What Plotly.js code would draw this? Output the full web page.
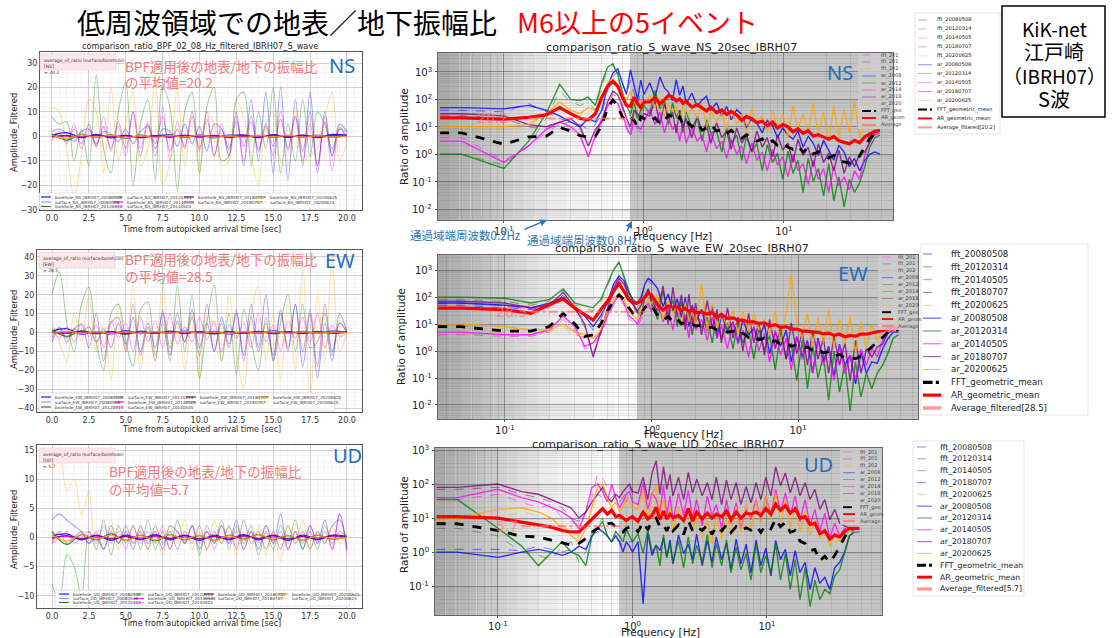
<!DOCTYPE html>
<html><head><meta charset="utf-8">
<script src="https://cdn.plot.ly/plotly-3.0.1.min.js"></script>
<style>html,body{margin:0;padding:0;background:#fff;}#chart{width:1113px;height:638px;}</style>
</head><body><div id="chart"></div>
<script>
// ---------------- DATA ----------------
const EVENTS = ['20080508','20120314','20140505','20180707','20200625'];
const AVG_FILTERED = [20.2, 28.5, 5.7];   // NS, EW, UD
const AVG_SPAN = [0.15, 0.9];

// time axes (s)
const T_SURF = [0,0.5,1,1.5,2,2.5,3,3.5,4,4.5,5,5.5,6,6.5,7,7.5,8,8.5,9,9.5,10,10.5,11,11.5,12,12.5,13,13.5,14,14.5,15,15.5,16,16.5,17,17.5,18,18.5,19,19.5,20];
const T_BORE = [0,1,2,3,4,5,6,7,8,9,10,11,12,13,14,15,16,17,18,19,20];

// surface filtered amplitudes (order = EVENTS)
const NS_SURFACE = [
 [2,3,1,-2,2,3,-3,2,1,-2,3,-3,2,4,-5,3,2,-4,5,-3,4,-6,5,3,-8,10,-12,15,-10,18,-15,20,-18,15,-12,18,-15,10,-8,5,2],
 [8,5,6,-10,3,-12,25,-5,-15,10,22,-20,5,15,-18,20,12,-22,10,18,-15,12,20,-10,-8,15,18,-12,10,-5,20,-15,5,-10,15,-8,10,5,-5,3,2],
 [-2,2,-3,5,-5,3,-4,8,-6,4,-8,10,-5,6,-8,12,-10,6,-5,8,-6,10,-8,5,-6,8,-10,6,-5,4,-8,10,-6,8,-10,5,-12,8,-14,4,-2],
 [0,1,-2,3,-3,5,-4,4,-5,6,-5,10,-8,5,-3,8,-6,3,-4,10,-5,7,-8,3,-5,6,-4,8,-6,5,-4,7,-5,8,-6,10,-12,6,-8,3,0],
 [12,10,-5,-25,-8,15,10,-15,20,-10,5,18,-12,-5,25,-20,-10,20,-12,8,-15,10,5,-12,-10,15,8,-8,-20,5,10,-10,-12,12,-10,-8,-5,8,18,-10,-2]
];
const EW_SURFACE = [
 [-5,2,-3,2,0,3,-5,2,-8,5,-6,8,-10,5,-8,10,-12,6,-5,12,-8,5,-10,8,-6,10,-12,15,-8,20,-15,12,-10,15,-18,10,-24,5,-15,10,0],
 [20,32,5,-10,15,24,-5,-20,10,15,-5,-18,12,16,-12,5,-15,25,-10,20,-24,5,25,-15,10,-22,12,-5,-20,8,-15,5,20,-10,15,-8,-5,10,-12,5,0],
 [2,-3,3,-5,5,-2,4,-8,6,-3,5,-10,8,-5,6,-8,10,-6,3,-5,8,-4,6,-10,4,-3,5,-8,10,-5,4,-10,6,-3,8,-5,10,-8,4,-2,0],
 [-3,3,-5,2,4,-8,10,-15,5,8,-10,15,-12,3,-15,12,-8,10,-5,8,-12,15,-10,5,-8,12,-15,8,-10,5,-12,10,-8,15,-10,12,-18,15,-10,5,0],
 [5,-5,-15,10,-5,20,-10,5,-25,15,-10,25,-20,8,-15,26,-10,5,-20,10,-25,8,5,-15,20,-10,-30,10,25,-15,10,-25,15,-20,35,-38,20,-15,40,-10,0]
];
const UD_SURFACE = [
 [3,4,3,2,1,-1,0,-2,2,-1,1,-2,2,-1,1,-2,2,1,-1,2,-2,1,-1,2,-1,3,-2,1,-2,2,-1,4,-2,1,-2,2,-1,3,-2,4,-2],
 [-8,-11,-3,-5,-10,1,-2,3,-3,2,-1,2,-2,3,-2,1,-2,3,-1,2,-3,2,-1,3,-2,2,-1,2,-3,1,-2,2,-1,3,-2,1,-2,2,-1,1,0],
 [-1,0,1,-1,0,1,-1,2,-1,1,-2,2,-1,1,-1,2,-2,1,-1,2,-1,1,-2,2,-1,1,-2,1,-1,2,-1,1,-2,1,-1,2,-1,1,-2,4,-3],
 [-1,1,-1,0,1,-1,1,-2,1,-1,2,-1,1,-2,2,-1,1,-2,1,-1,2,-2,1,-1,2,-2,3,-1,1,-2,1,-2,2,-1,1,-2,1,-1,2,3,-2],
 [12,15,8,10,4,8,-2,-1,3,-2,1,-1,2,-2,1,-3,2,-1,3,-2,1,-2,3,-1,2,-3,1,-2,2,-3,1,-4,2,-1,3,-2,1,-1,2,-1,1]
];
// borehole filtered amplitudes
const NS_BOREHOLE = [
 [0.5,1.5,-0.5,0.8,-0.6,0.4,-0.5,0.3,0.6,-0.4,0.5,-0.3,0.4,0.6,-0.5,0.7,-0.4,0.5,-0.3,0.8,0.5],
 [1,-1.5,0.8,-0.5,0.6,-0.8,0.5,-0.4,0.6,-0.5,0.4,-0.6,0.5,-0.3,0.4,-0.5,0.3,-0.4,0.5,-0.3,0.2],
 [-0.3,0.2,-0.2,0.3,-0.2,0.2,-0.3,0.2,-0.2,0.3,-0.2,0.2,-0.3,0.2,-0.2,0.3,-0.2,0.2,-0.3,0.2,0],
 [0,0.3,-0.4,0.5,-0.3,0.4,-0.5,0.3,-0.4,0.5,-0.3,0.4,-0.5,0.3,-0.4,0.5,-0.3,0.4,-0.5,0.3,0],
 [0.5,-0.8,0.6,-0.4,0.5,-0.6,0.3,-0.5,0.4,-0.3,0.5,-0.4,0.3,-0.5,0.4,-0.3,0.5,-0.4,0.3,-0.2,0]
];
const EW_BOREHOLE = [
 [0.8,2,-1,0.5,-0.8,1,-0.6,0.4,-0.5,0.8,-0.4,0.6,-0.8,0.5,-0.6,0.9,-0.5,0.6,-0.4,0.7,0.3],
 [1.5,-2,1,-0.8,0.6,-1,0.7,-0.5,0.8,-0.6,0.5,-0.8,0.6,-0.4,0.5,-0.7,0.4,-0.5,0.6,-0.4,0.2],
 [-0.4,0.3,-0.3,0.4,-0.3,0.2,-0.4,0.3,-0.2,0.4,-0.3,0.3,-0.4,0.2,-0.3,0.4,-0.2,0.3,-0.4,0.2,0],
 [0.2,-0.5,0.6,-0.4,0.5,-0.6,0.4,-0.5,0.6,-0.4,0.5,-0.6,0.4,-0.5,0.6,-0.4,0.5,-0.6,0.4,-0.3,0],
 [-0.5,0.8,-0.6,0.5,-0.7,0.4,-0.6,0.5,-0.4,0.6,-0.5,0.4,-0.6,0.5,-0.4,0.6,-0.5,0.4,-0.3,0.2,0]
];
const UD_BOREHOLE = [
 [0.3,0.6,-0.4,0.3,-0.5,0.4,-0.3,0.5,-0.4,0.3,-0.5,0.4,-0.3,0.5,-0.4,0.3,-0.5,0.4,-0.3,0.4,0.2],
 [1,-1.2,0.5,-0.4,0.6,-0.5,0.4,-0.6,0.5,-0.4,0.3,-0.5,0.4,-0.3,0.5,-0.4,0.3,-0.5,0.4,-0.3,0.1],
 [0,0.2,-0.2,0.1,-0.2,0.2,-0.1,0.2,-0.2,0.1,-0.2,0.2,-0.1,0.2,-0.2,0.1,-0.2,0.2,-0.1,0.2,0],
 [-0.2,0.3,-0.3,0.4,-0.3,0.2,-0.4,0.3,-0.2,0.4,-0.3,0.2,-0.4,0.3,-0.2,0.4,-0.3,0.2,-0.4,0.3,0],
 [0.4,-0.6,0.5,-0.3,0.4,-0.5,0.3,-0.4,0.5,-0.3,0.4,-0.5,0.3,-0.4,0.5,-0.3,0.4,-0.5,0.3,-0.2,0]
];

// frequency axes (Hz)
const FREQ_LOW = [0.035,0.05,0.1,0.15,0.2,0.25,0.3,0.35,0.4,0.45,0.5,0.55,0.6,0.65,0.7,0.75,0.8,0.85,0.9,0.95,1.0];
const FREQ_HIGH = [1.1,1.2,1.3,1.4,1.5,1.6,1.7,1.8,1.9,2.0,2.2,2.4,2.6,2.8,3.0,3.3,3.6,3.9,4.2,4.6,5.0,5.4,5.9,6.4,7.0,7.6,8.3,9.0,9.8,10.7,11.6,12.6,13.7,14.9,16.2,17.6,19.2,20.9,22.7,24.7,26.9,29.3,31.9,34.7,37.8,41,44.6,48.5];

// ---- NS spectral ratios ----
const NS_AR_MEAN = [21,21,19,22,27,50,30,20,18,30,120,300,450,300,120,60,55,120,70,50,80,
 80,115,68,95,140,120,88,105,72,85, 52,64,47,38,52,33,41,28,36,27, 17,24,19,14,16,11,15,9,12,10, 6.5,8.5,5.8,7.2,4.6,5.1,4.2,3.5,4.4,3.1, 2.7,2.4,3.2,2.6,4.3,5.2,6.8,7.5];
const NS_FFT_MEAN = [6,6,2.3,4.3,4.5,9.5,7,4.7,4.3,4.5,11,47,95,54,23,17,23,17,10,23,20,
 15,21,13,17,27,24,16,23,12,17, 10,14,7.5,9,12,7,8,5.5,7.5,4.8, 3.8,5.2,4.1,3,3.6,2.4,3.1,2.1,2.6,1.8, 1.5,2,1.2,1.7,1.0,1.25,0.95,0.72,0.92,0.6, 0.52,0.48,0.62,0.85,1.9,3.8,5.8,7];
const NS_AR = [
 [50,50,45,60,40,25,15,10,20,15,40,300,900,1300,400,150,1200,300,100,500,150,
  400,120,650,260,180,90,520,140,310,70, 170,55,95,130,40,75,25,55,18,42, 28,9,22,14,6,17,11,4,9,5, 3.5,7,1.8,4.5,2.5,0.9,3.2,1.4,0.6,2.1, 1.2,0.35,0.7,0.25,0.6,1,1.2,1],
 [1,1,0.3,3,30,350,100,90,120,60,400,1500,2000,800,200,60,30,80,20,40,60,
  30,210,45,90,12,75,22,40,6,35, 9,22,3,18,6,7,1.2,9,2.5,5, 0.6,4.5,1.2,2.5,0.25,2.2,0.5,1.1,0.12,1.3, 0.2,0.6,0.04,0.7,0.1,0.3,0.03,0.45,0.02,0.15, 0.012,0.12,0.04,0.09,0.35,1.8,4,5],
 [3,3,0.5,2,8,15,10,5,0.8,5,20,60,100,70,30,10,5,20,10,8,15,
  45,12,35,6,22,8,12,3,14,2.5, 9,3,5,1.2,6,1.6,3,0.7,3.5,1, 2,0.45,2.6,0.6,1.2,0.25,1.5,0.4,0.8,0.15, 1,0.25,0.45,0.08,0.6,0.12,0.3,0.04,0.35,0.07, 0.15,0.05,0.25,0.12,0.9,3.2,5,6],
 [30,30,25,12,10,15,20,10,2,8,15,80,200,150,60,20,10,40,30,20,30,
  25,90,12,70,20,35,6,40,9,20, 4,24,7,12,2.5,14,4,7,1.5,9, 2.5,5,1.2,7,1.8,4,0.8,5,1.4,2.5, 0.5,3.5,0.9,1.8,0.35,2.4,0.5,1.1,0.25,1.4, 0.2,0.8,0.35,1,1.2,2.8,6,7],
 [10,10,10,12,30,80,40,30,50,40,100,400,600,300,150,100,200,80,60,90,70,
  140,50,110,25,70,35,55,18,60,25, 45,20,65,10,35,15,30,8,45,12, 30,6,45,14,25,7,40,9,30,4, 60,8,30,6,70,5,35,3,55,4, 45,6,90,4,12,8,8,8]
];
const NS_FFT = [
 [40,40,35,70,35,20,15,12,8,12,30,200,700,1000,400,150,500,150,60,200,80],
 [1,1,0.4,2,20,200,80,60,80,40,300,1200,1800,700,150,50,25,60,15,30,50],
 [4,4,0.6,2,6,12,8,4,0.8,4,15,50,90,60,25,8,4,15,8,6,12],
 [25,25,20,10,8,12,15,8,2,6,12,60,150,120,50,15,8,30,25,15,25],
 [8,8,8,10,25,60,30,25,40,30,80,300,500,250,120,80,150,60,50,70,60]
];

// ---- EW spectral ratios ----
const EW_AR_MEAN = [39,39,34,25,52,85,39,22,14,34,70,160,320,160,80,60,60,70,100,140,120,
 52,33,47,42,43,32,38,30,33,26, 28,23,27,17,23,16,17,14,14,12, 12,10.5,11,8.5,9.5,7.5,8,6.5,6.5,5.5, 5.5,5,5,4.3,4.6,3.8,4.2,3.4,3.8,3.6, 4.2,4.2,4.8,5.2,5.8,6.8,7,7];
const EW_FFT_MEAN = [8,8,5.5,5.5,8,25,10,3.5,4,10,30,70,120,80,40,25,20,25,40,55,50,
 21,14,19,12,16,10,12,9.5,10,8.5, 9,7.5,7.5,6,6.5,5,5.5,3.8,4.6,3.2, 3.8,2.6,3,2.1,2.4,1.8,2,1.5,1.7,1.25, 1.4,1.05,1.2,0.85,0.95,0.65,0.75,0.55,0.58,0.52, 0.65,0.95,1.4,2,3.2,5,6,6];
const EW_AR = [
 [60,60,50,40,60,100,40,20,8,20,60,300,600,400,150,80,60,100,300,500,400,
  210,45,130,30,85,18,95,8,50,12, 35,5,45,3,22,6,12,2,15,4, 7,2.5,10,0.8,5,1.5,6,0.4,3.5,0.6, 2.5,0.15,3,0.4,1.5,0.12,1.8,0.3,0.7,0.06, 0.9,0.15,0.4,0.35,1.2,2.8,5,5],
 [100,100,90,60,80,200,60,50,40,80,300,1000,2000,600,200,60,30,20,100,200,60,
  15,170,22,80,8,70,12,30,4,35, 7,18,2,25,3,11,1.2,13,2,6, 0.5,7,1.1,3.8,0.2,5,0.5,2,0.08,2.5, 0.04,1.6,0.1,0.7,0.015,1,0.03,0.35,0.006,0.4, 0.02,0.15,0.04,0.15,0.3,0.8,3,4],
 [5,5,4,4,6,20,8,1.5,2,5,20,60,120,60,20,15,10,20,40,60,30,
  70,12,40,6,55,9,22,3,30,6, 15,2.5,18,3,9,1.2,12,1.8,6,0.6, 8,1,4.5,0.4,6,0.7,3,0.2,3.5,0.5, 2,0.15,2.5,0.3,1.2,0.08,1.5,0.15,0.7,0.08, 1.2,0.3,1.3,0.6,2.5,5.5,8,8],
 [70,70,60,40,50,150,40,10,0.6,5,30,200,500,300,100,50,30,50,100,200,80,
  30,260,10,230,18,120,6,130,10,60, 4,75,7,35,2,40,3,18,1,25, 2,12,0.7,15,1.2,8,0.5,11,0.8,5, 0.3,6,0.5,3,0.15,4,0.3,2,0.08,2.5, 0.15,1.2,0.6,1.4,1.8,4.5,6,6],
 [10,10,8,6,6,10,5,4,3,6,30,80,150,80,30,20,15,30,50,80,60,
  120,15,70,25,50,8,65,12,30,10, 300,5,60,6,25,8,35,4,30,5, 25,6,15,4,30,2,25,700,12,3, 25,1.5,18,2,35,1.2,15,1.8,20,0.8, 12,1.2,10,2.5,5,6,6,6]
];
const EW_FFT = [
 [50,50,40,35,50,80,35,15,6,15,50,250,500,350,120,60,50,80,250,400,300],
 [80,80,70,50,70,180,50,40,30,60,250,900,1800,500,180,50,25,15,80,150,50],
 [4,4,3.5,3.5,5,15,6,1.2,1.5,4,15,50,100,50,15,12,8,15,30,50,25],
 [60,60,50,35,40,120,35,8,0.8,4,25,150,400,250,80,40,25,40,80,150,60],
 [8,8,6,5,5,8,4,3,2.5,5,25,60,120,60,25,15,12,25,40,60,50]
];

// ---- UD spectral ratios ----
const UD_AR_MEAN = [11,11,10,7.6,6.5,5.4,4.3,3.9,3.9,6.2,9.5,13,19,13,17,11,12,10,8.5,10,11,
 8,15,9.5,12,21,9,16,9.5,13,10.5, 12,8.5,19,8,15,9.5,14,10,13,11, 16,9,15,10,14,13,15,12,19,13, 26,17,23,14,19,10,11,6.5,7,3.5, 4.2,2.4,3.2,2.8,4,5,5,5];
const UD_FFT_MEAN = [6.8,6.8,4.3,2.9,2.8,2.2,1.8,1.6,1.8,2.5,3.9,5,5.5,6.8,7.1,5.5,4.3,3.9,5,5.5,6,
 4,7.5,4.5,8.5,10,5.5,6.5,4.2,6.5,4.2, 6.2,3.3,8.5,4.2,5.5,4.3,6.3,3.3,5.7,4.2, 6.4,3.8,5.6,4.3,5.2,4.4,5.8,3.8,6.2,4.8, 9.5,5.6,7.5,3.8,4.3,2.1,1.8,1.1,1.2,0.55, 0.75,0.5,0.8,1.5,3,5,5,5];
const UD_AR = [
 [1,1,0.7,1,1.2,1,0.8,1,1.5,1.2,3,5,4,3,2,3,2,1,2,1.5,1,
  2,0.03,3.5,0.8,1.6,1.1,2.6,0.7,2.3,0.45, 3.2,0.9,1.7,0.6,3.4,0.4,2.2,0.5,2.8,0.6, 1.8,0.3,2.4,0.45,1.7,0.25,2.3,0.4,1.3,0.2, 2.2,0.6,1.2,0.2,1.1,0.25,0.5,0.08,0.35,0.12, 0.18,0.08,0.35,0.5,1,3,4,4],
 [35,35,5,1.5,0.4,1,2,1,0.8,0.4,3,5,8,3,2,4,3,2,5,3,2,
  3.5,0.9,4.5,1,1.6,0.4,3.2,0.7,1.7,0.5, 2.2,0.35,2.8,0.45,1.6,0.5,3.3,0.35,1.8,0.4, 2.3,0.25,1.4,0.3,0.9,0.15,1.7,0.25,0.8,0.25, 1.8,0.15,0.9,0.08,0.6,0.04,0.35,0.025,0.15,0.04, 0.08,0.06,0.2,0.3,1,3,4,4],
 [40,40,70,40,30,20,15,10,5,15,80,100,60,30,100,40,20,30,50,60,30,
  25,110,18,55,35,15,90,12,45,8, 55,12,65,10,35,6,45,12,25,5, 35,7,28,5,18,9,35,8,45,12, 70,15,55,12,45,8,35,6,18,4, 14,2.5,7,3,5,4,4,4],
 [80,80,100,60,50,35,25,20,10,15,30,50,80,40,30,50,40,60,80,100,60,
  55,160,35,220,480,50,320,70,190,45, 160,35,220,55,140,45,110,35,160,25, 130,35,110,25,85,28,110,35,160,45, 320,90,210,55,160,45,110,35,70,18, 35,9,18,7,6,5,4,4],
 [10,10,18,20,15,10,5,3,2,5,20,80,100,40,20,30,15,20,40,30,20,
  18,70,8,45,90,12,35,8,22,4, 22,7,17,4,12,2.5,9,1.8,12,2.5, 16,3,22,4,28,5,32,7,45,9, 55,7,35,5,22,4,16,3,9,2.5, 5,1.5,3.5,2,4,4,4,4]
];
const UD_FFT = [
 [1.2,1.2,1.2,1.1,1.5,1.2,1.0,1.2,2,2,3,4,3,3,2,3,2,1.5,2,2,2],
 [5,5,3,1,0.8,0.6,1.5,2,0.5,1,4,6,10,3,2,3,3,2,4,3,2],
 [35,35,50,30,20,25,10,8,6,15,40,200,150,80,60,40,30,40,30,50,40],
 [70,70,80,50,40,30,20,10,8,15,30,50,40,30,40,50,30,40,60,80,50],
 [8,8,10,15,12,8,6,4,3,6,15,40,60,30,15,20,10,15,30,20,15]
];

// ---------------- RENDER ----------------
const W = 1113, H = 638;
const px = v => v / W, py = v => 1 - v / H;
const FONT = 'DejaVu Sans, sans-serif';
const JP = 'Noto Sans CJK JP, sans-serif';
const COLORS = ['#0000ff', '#008000', '#ff00ff', '#800080', '#ffa500'];
const FREQ = FREQ_LOW.concat(FREQ_HIGH);

const traces = [], shapes = [], ann = [];
function txt(x, y, text, o) {
  ann.push(Object.assign({xref:'paper', yref:'paper', x:px(x), y:py(y), text:text, showarrow:false,
    xanchor:'center', yanchor:'middle', font:{family:FONT, size:10, color:'#222'}}, o || {}));
}

const LEFT = [
  {comp:'NS', xa:'x',  ya:'y',  dom:{x:[40,362], y:[52,210]},  xr:[-0.81,21.02], yr:[-30.1,34.5], dt:10, mdt:2, surf:NS_SURFACE, bore:NS_BOREHOLE, avg:AVG_FILTERED[0]},
  {comp:'EW', xa:'x2', ya:'y2', dom:{x:[37,362], y:[250,412]}, xr:[-1.02,21.02], yr:[-42.1,43.7], dt:10, mdt:2, surf:EW_SURFACE, bore:EW_BOREHOLE, avg:AVG_FILTERED[1]},
  {comp:'UD', xa:'x3', ya:'y3', dom:{x:[37,362], y:[445,608]}, xr:[-1.02,21.02], yr:[-12.1,15.86], dt:5, mdt:1, surf:UD_SURFACE, bore:UD_BOREHOLE, avg:AVG_FILTERED[2]}
];
const RIGHT = [
  {comp:'NS', xa:'x4', ya:'y4', dom:{x:[438,893], y:[53,220]},  xr:[-1.471,1.779], yr:[-2.40,3.69], ar:NS_AR, fft:NS_FFT, arm:NS_AR_MEAN, fftm:NS_FFT_MEAN, avg:AVG_FILTERED[0]},
  {comp:'EW', xa:'x5', ya:'y5', dom:{x:[438,918], y:[255,419]}, xr:[-1.457,1.819], yr:[-2.52,3.56], ar:EW_AR, fft:EW_FFT, arm:EW_AR_MEAN, fftm:EW_FFT_MEAN, avg:AVG_FILTERED[1]},
  {comp:'UD', xa:'x6', ya:'y6', dom:{x:[435,882], y:[448,615]}, xr:[-1.468,1.855], yr:[-1.85,3.06], ar:UD_AR, fft:UD_FFT, arm:UD_AR_MEAN, fftm:UD_FFT_MEAN, avg:AVG_FILTERED[2]}
];

const layout = {
  width:W, height:H, margin:{l:0, r:0, t:0, b:0}, paper_bgcolor:'#fff', plot_bgcolor:'#fff',
  showlegend:false, font:{family:FONT}
};
function axName(a) { return a === 'x' ? 'xaxis' : a === 'y' ? 'yaxis' : (a[0] + 'axis' + a.slice(1)); }

LEFT.forEach(p => {
  p.surf.forEach((arr, i) => traces.push({type:'scatter', mode:'lines', x:T_SURF, y:arr, xaxis:p.xa, yaxis:p.ya,
    line:{color:COLORS[i], width:1.1, shape:'spline', smoothing:1}, opacity:0.36, hoverinfo:'skip'}));
  p.bore.forEach((arr, i) => traces.push({type:'scatter', mode:'lines', x:T_BORE, y:arr, xaxis:p.xa, yaxis:p.ya,
    line:{color:COLORS[i], width:1.2, shape:'spline'}, opacity:0.85, hoverinfo:'skip'}));
  const base = {showline:true, mirror:true, linecolor:'#555', linewidth:1, zeroline:false, showgrid:true,
    gridcolor:'#c4c4c4', gridwidth:0.8, ticks:'', tickfont:{family:FONT, size:8, color:'#333'}};
  layout[axName(p.xa)] = Object.assign({}, base, {domain:[px(p.dom.x[0]), px(p.dom.x[1])], range:p.xr, anchor:p.ya,
    tick0:0, dtick:2.5, tickformat:'.1f', minor:{dtick:0.5, showgrid:true, gridcolor:'#ececec', gridwidth:0.6}});
  layout[axName(p.ya)] = Object.assign({}, base, {domain:[py(p.dom.y[1]), py(p.dom.y[0])], range:p.yr, anchor:p.xa,
    tick0:0, dtick:p.dt, minor:{dtick:p.mdt, showgrid:true, gridcolor:'#ececec', gridwidth:0.6}});
});

function logTicks(lo, hi) {
  const v = [], t = [];
  for (let e = Math.ceil(lo); e <= Math.floor(hi); e++) { v.push(Math.pow(10, e)); t.push('10<sup>' + (e < 0 ? '-' + (-e) : e) + '</sup>'); }
  return {v, t};
}
function logMinor(lo, hi) {
  const v = [];
  for (let e = Math.floor(lo); e <= Math.ceil(hi); e++) for (let m = 2; m <= 9; m++) {
    const val = m * Math.pow(10, e), l = Math.log10(val); if (l > lo && l < hi) v.push(val);
  }
  return v;
}

RIGHT.forEach(p => {
  p.fft.forEach((arr, i) => traces.push({type:'scatter', mode:'lines', x:FREQ_LOW, y:arr, xaxis:p.xa, yaxis:p.ya,
    line:{color:COLORS[i], width:1, dash:'dash'}, opacity:0.5, hoverinfo:'skip'}));
  p.ar.forEach((arr, i) => traces.push({type:'scatter', mode:'lines', x:FREQ, y:arr, xaxis:p.xa, yaxis:p.ya,
    line:{color:COLORS[i], width:1.4}, opacity:0.78, hoverinfo:'skip'}));
  traces.push({type:'scatter', mode:'lines', x:FREQ, y:p.fftm, xaxis:p.xa, yaxis:p.ya, line:{color:'#000', width:2.8, dash:'dash'}, hoverinfo:'skip'});
  traces.push({type:'scatter', mode:'lines', x:FREQ, y:p.arm, xaxis:p.xa, yaxis:p.ya, line:{color:'#ff0000', width:3.2}, hoverinfo:'skip'});
  traces.push({type:'scatter', mode:'lines', x:AVG_SPAN, y:[p.avg, p.avg], xaxis:p.xa, yaxis:p.ya, line:{color:'#ff7070', width:2, dash:'dashdot'}, opacity:0.75, hoverinfo:'skip'});

  const tx = logTicks(p.xr[0], p.xr[1]), ty = logTicks(p.yr[0], p.yr[1]);
  const base = {type:'log', showline:true, mirror:true, linecolor:'#666', linewidth:1, zeroline:false, showgrid:true,
    gridcolor:'rgba(70,70,70,0.5)', gridwidth:1, ticks:'outside', ticklen:2, tickcolor:'#555',
    tickfont:{family:FONT, size:10, color:'#222'}, tickmode:'array'};
  layout[axName(p.xa)] = Object.assign({}, base, {domain:[px(p.dom.x[0]), px(p.dom.x[1])], range:p.xr, anchor:p.ya,
    tickvals:tx.v, ticktext:tx.t, minor:{tickmode:'array', tickvals:logMinor(p.xr[0], p.xr[1]), showgrid:true, gridcolor:'rgba(90,90,90,0.25)', gridwidth:0.6, ticks:''}});
  layout[axName(p.ya)] = Object.assign({}, base, {domain:[py(p.dom.y[1]), py(p.dom.y[0])], range:p.yr, anchor:p.xa,
    tickvals:ty.v, ticktext:ty.t, showticklabels:false,
    minor:{tickmode:'array', tickvals:logMinor(p.yr[0], p.yr[1]), showgrid:true, gridcolor:'rgba(90,90,90,0.22)', gridwidth:0.6, ticks:''}});
  // y tick labels placed in page coordinates through the axis mapping
  const pxPerDec = (p.dom.y[1] - p.dom.y[0]) / (p.yr[1] - p.yr[0]);
  ty.v.forEach((v, k) => txt(p.dom.x[0] - 4, p.dom.y[1] - (Math.log10(v) - p.yr[0]) * pxPerDec, ty.t[k],
    {xanchor:'right', font:{family:FONT, size:10, color:'#222'}}));

  // background shading (stop band / pass band)
  const l0 = p.xr[0], l1 = Math.log10(0.2), l2 = Math.log10(0.8), n = 10;
  for (let k = 0; k < n; k++) {
    const g = Math.round(170 + (228 - 170) * k / (n - 1));
    shapes.push({type:'rect', xref:p.xa, yref:p.ya + ' domain', x0:Math.pow(10, l0 + (l1 - l0) * k / n), x1:Math.pow(10, l0 + (l1 - l0) * (k + 1) / n),
      y0:0, y1:1, fillcolor:'rgb(' + g + ',' + g + ',' + g + ')', line:{width:0}, layer:'below'});
  }
  for (let k = 0; k < 4; k++) {
    const g = Math.round(236 + 5 * k);
    shapes.push({type:'rect', xref:p.xa, yref:p.ya + ' domain', x0:Math.pow(10, l1 + (l2 - l1) * k / 4), x1:Math.pow(10, l1 + (l2 - l1) * (k + 1) / 4),
      y0:0, y1:1, fillcolor:'rgb(' + g + ',' + g + ',' + g + ')', line:{width:0}, layer:'below'});
  }
  shapes.push({type:'rect', xref:p.xa, yref:p.ya + ' domain', x0:0.8, x1:Math.pow(10, p.xr[1]), y0:0, y1:1, fillcolor:'#c6c6c6', line:{width:0}, layer:'below'});
});

// ------- Text -------
txt(75, 22, '低周波領域での地表／地下振幅比', {xanchor:'left', font:{family:JP, size:28, color:'#000'}});
txt(515, 22, 'M6以上の5イベント', {xanchor:'left', font:{family:JP, size:27, color:'#ff0000'}});
shapes.push({type:'rect', xref:'paper', yref:'paper', x0:px(1002), x1:px(1105), y0:py(117), y1:py(6), line:{color:'#000', width:1.5}, fillcolor:'#fff', layer:'above'});
txt(1054, 28, 'KiK-net', {font:{family:JP, size:19, color:'#000'}});
txt(1054, 52, '江戸崎', {font:{family:JP, size:20, color:'#000'}});
txt(1054, 76, '（IBRH07）', {font:{family:JP, size:19, color:'#000'}});
txt(1054, 99, 'S波', {font:{family:JP, size:20, color:'#000'}});

txt(200, 46, 'comparison_ratio_BPF_02_08_Hz_filtered_IBRH07_S_wave', {font:{family:FONT, size:8.2, color:'#222'}});
const LTXT = [
  {xl:[201,229], yl:[14,133], pk:[123,66,82], lbl:[342,65], info:[40,54,116,70], leg:{box:[39,193,335,209], cols:[40,112,183,255], rows:[197,202,206.5]}},
  {xl:[201,429], yl:[14,330], pk:[123,259,276], lbl:[340,260], info:[39,252,115,268], leg:{box:[39,393,335,411], cols:[40,113,185,258], rows:[397,402,407]}},
  {xl:[201,623], yl:[14,530], pk:[107,471,489], lbl:[347,455], info:[39,448,115,463], leg:{box:[55,590,350,606], cols:[58,133,203,277], rows:[594,598.5,602.5]}}
];
LEFT.forEach((p, j) => {
  const c = LTXT[j];
  txt(c.xl[0], c.xl[1], 'Time from autopicked arrival time [sec]', {font:{family:FONT, size:8, color:'#222'}});
  txt(c.yl[0], c.yl[1], 'Amplitude_Filtered', {textangle:-90, font:{family:FONT, size:8.5, color:'#222'}});
  txt(c.pk[0], c.pk[1], 'BPF適用後の地表/地下の振幅比', {xanchor:'left', font:{family:JP, size:13.5, color:'#f27a7a'}});
  txt(c.pk[0], c.pk[2], 'の平均値=' + p.avg, {xanchor:'left', font:{family:JP, size:13.5, color:'#f27a7a'}});
  txt(c.lbl[0], c.lbl[1], p.comp, {font:{family:'Noto Sans, sans-serif', size:20, color:'#1f6fc0'}});
  shapes.push({type:'rect', xref:'paper', yref:'paper', x0:px(c.info[0]), x1:px(c.info[2]), y0:py(c.info[3]), y1:py(c.info[1]),
    fillcolor:'rgba(252,228,233,0.9)', line:{color:'#e6c9cf', width:0.5}, layer:'above'});
  txt(c.info[0] + 2, c.info[1] + 1.5, 'average_of_ratio (surface/borehole)<br>[' + p.comp + ']<br>= ' + p.avg,
    {xanchor:'left', yanchor:'top', align:'left', font:{family:FONT, size:4.5, color:'#333'}});
  const L = c.leg;
  shapes.push({type:'rect', xref:'paper', yref:'paper', x0:px(L.box[0]), x1:px(L.box[2]), y0:py(L.box[3]), y1:py(L.box[1]),
    fillcolor:'rgba(255,255,255,0.8)', line:{color:'#d0d0d0', width:0.6}, layer:'above'});
  const entries = [];
  EVENTS.forEach((ev, i) => {
    entries.push({name:'borehole_' + p.comp + '_IBRH07_' + ev, color:COLORS[i], op:0.9});
    entries.push({name:'surface_' + p.comp + '_IBRH07_' + ev, color:COLORS[i], op:0.4});
  });
  const colOf = [0,0,0,1,1,1,2,2,3,3], rowOf = [0,1,2,0,1,2,0,1,0,1];
  entries.forEach((en, k) => {
    const x = L.cols[colOf[k]], y = L.rows[rowOf[k]];
    shapes.push({type:'line', xref:'paper', yref:'paper', x0:px(x + 1), x1:px(x + 11), y0:py(y), y1:py(y), line:{color:en.color, width:1.2}, opacity:en.op, layer:'above'});
    txt(x + 13, y, en.name, {xanchor:'left', font:{family:FONT, size:4.2, color:'#333'}});
  });
});

const RTXT = [
  {title:[671,47], xl:[672,236], yl:[404,137], lbl:[840,72], avgx:492,
   inner:{box:[858,53,893,129], y0:55, dy:7, lx:[862,876], tx:879},
   big:{box:[915,13,1000,134], y0:20, dy:8.95, lx:[918,932], tx:935, fs:5.2, lw:0.6}},
  {title:[682,248], xl:[683,434], yl:[401,337], lbl:[853,273], avgx:511,
   inner:{box:[878,255,918,330], y0:257, dy:6.9, lx:[882,893], tx:896},
   big:{box:[921,244,1088,415], y0:254, dy:12.83, lx:[923,941], tx:949, fs:8.6, lw:1}},
  {title:[658,444], xl:[660,632], yl:[404,525], lbl:[818,464], avgx:507,
   inner:{box:[840,448,882,525], y0:452, dy:6.9, lx:[843,855], tx:858},
   big:{box:[913,441,1024,596], y0:447, dy:11.83, lx:[917,932], tx:938, fs:7.8, lw:0.9}}
];
function specEntries(avg) {
  const e = [];
  EVENTS.forEach((ev, i) => e.push({name:'fft_' + ev, color:COLORS[i], dash:'dash', width:1, op:0.55}));
  EVENTS.forEach((ev, i) => e.push({name:'ar_' + ev, color:COLORS[i], dash:'solid', width:1, op:0.75}));
  e.push({name:'FFT_geometric_mean', color:'#000', dash:'dashdot', width:3.2, op:1});
  e.push({name:'AR_geometric_mean', color:'#ff0000', dash:'solid', width:3.2, op:1});
  e.push({name:'Average_filtered[' + avg + ']', color:'#ff6f6f', dash:'solid', width:3.6, op:0.7});
  return e;
}
RIGHT.forEach((p, j) => {
  const c = RTXT[j];
  txt(c.title[0], c.title[1], 'comparison_ratio_S_wave_' + p.comp + '_20sec_IBRH07', {font:{family:FONT, size:11.2, color:'#222'}});
  txt(c.xl[0], c.xl[1], 'Frequency [Hz]', {font:{family:FONT, size:10.5, color:'#222'}});
  txt(c.yl[0], c.yl[1], 'Ratio of amplitude', {textangle:-90, font:{family:FONT, size:10.5, color:'#222'}});
  txt(c.lbl[0], c.lbl[1], p.comp, {font:{family:'Noto Sans, sans-serif', size:20, color:'#1f6fc0'}});
  ann.push({xref:'paper', yref:p.ya, x:px(c.avgx), y:Math.log10(p.avg), text:String(p.avg), showarrow:false,
    xanchor:'center', yanchor:'middle', font:{family:FONT, size:14, color:'rgba(255,120,120,0.8)'}});
  const ent = specEntries(p.avg);
  const I = c.inner;
  shapes.push({type:'rect', xref:'paper', yref:'paper', x0:px(I.box[0]), x1:px(I.box[2]), y0:py(I.box[3]), y1:py(I.box[1]),
    fillcolor:'rgba(205,205,205,0.85)', line:{width:0}, layer:'above'});
  ent.slice(2).forEach((en, k) => {
    const y = I.y0 + I.dy * k;
    shapes.push({type:'line', xref:'paper', yref:'paper', x0:px(I.lx[0]), x1:px(I.lx[1]), y0:py(y), y1:py(y), line:{color:en.color, width:en.width * 0.6, dash:en.dash}, opacity:en.op, layer:'above'});
    txt(I.tx, y, en.name.slice(0, 7), {xanchor:'left', font:{family:FONT, size:5, color:'#444'}});
  });
  const B = c.big;
  shapes.push({type:'rect', xref:'paper', yref:'paper', x0:px(B.box[0]), x1:px(B.box[2]), y0:py(B.box[3]), y1:py(B.box[1]),
    fillcolor:'rgba(255,255,255,0.95)', line:{color:'#dddddd', width:0.8}, layer:'above'});
  ent.forEach((en, k) => {
    const y = B.y0 + B.dy * k;
    shapes.push({type:'line', xref:'paper', yref:'paper', x0:px(B.lx[0]), x1:px(B.lx[1]), y0:py(y), y1:py(y), line:{color:en.color, width:en.width * B.lw, dash:en.dash}, opacity:en.op, layer:'above'});
    txt(B.tx, y, en.name, {xanchor:'left', font:{family:FONT, size:B.fs, color:'#222'}});
  });
});

const BLUE = '#2e75b6';
txt(465, 235, '通過域端周波数0.2Hz', {font:{family:JP, size:11.5, color:BLUE}});
txt(582, 240, '通過域端周波数0.8Hz', {font:{family:JP, size:11.5, color:BLUE}});
ann.push({xref:'paper', yref:'paper', x:px(547), y:py(220), ax:-24, ay:10, text:'', showarrow:true, arrowhead:2, arrowsize:1, arrowwidth:1.4, arrowcolor:BLUE});
ann.push({xref:'paper', yref:'paper', x:px(632), y:py(221), ax:-6, ay:12, text:'', showarrow:true, arrowhead:2, arrowsize:1, arrowwidth:1.4, arrowcolor:BLUE});

layout.shapes = shapes;
layout.annotations = ann;
Plotly.newPlot('chart', traces, layout, {staticPlot:true, displayModeBar:false});
</script>
</body></html>
